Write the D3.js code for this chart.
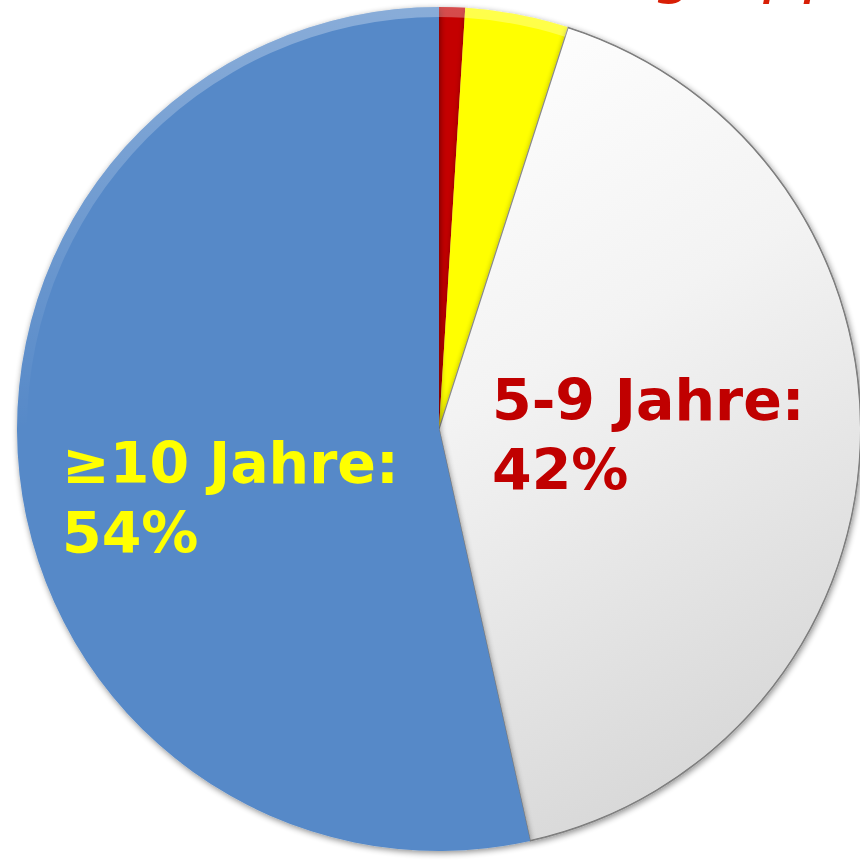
<!DOCTYPE html>
<html>
<head>
<meta charset="utf-8">
<script src="https://cdn.jsdelivr.net/npm/d3@7"></script>
<style>
  html, body { margin: 0; padding: 0; background: #fff; overflow: hidden; }
  svg { display: block; }
</style>
</head>
<body>
<svg id="chart" width="860" height="860"></svg>
<script>
// slices, clockwise from 12 o'clock
const categories = ["<1 Jahr", "1-4 Jahre", "5-9 Jahre", "≥10 Jahre"];
const shares = [1, 4, 42, 54];
const sliceColors = ["#c40000", "#ffff00", "url(#whiteFill)", "#5689c8"];

// labels shown on the two big slices
const labelLines = {
    "5-9 Jahre": ["5-9 Jahre:", "42%"],
    "≥10 Jahre": ["≥10 Jahre:", "54%"]
};
const labelColors = { "5-9 Jahre": "#c00000", "≥10 Jahre": "#ffff00" };

const titleText = "Altersgruppe bei Diagnose";

const svg = d3.select("#chart");
const defs = svg.append("defs");

// white slice: light at top, grey towards the bottom right
const grad = defs.append("linearGradient")
    .attr("id", "whiteFill")
    .attr("x1", "0").attr("y1", "0")
    .attr("x2", "0.3").attr("y2", "1");
grad.append("stop").attr("offset", "0%").attr("stop-color", "#ffffff");
grad.append("stop").attr("offset", "45%").attr("stop-color", "#f3f3f3");
grad.append("stop").attr("offset", "100%").attr("stop-color", "#d9d9d9");

// highlight on the rim, strongest at the top
const rimGrad = defs.append("linearGradient")
    .attr("id", "rimFill")
    .attr("gradientUnits", "userSpaceOnUse")
    .attr("x1", 0).attr("y1", -422)
    .attr("x2", 0).attr("y2", 0);
rimGrad.append("stop").attr("offset", "0%").attr("stop-color", "#ffffff").attr("stop-opacity", 0.3);
rimGrad.append("stop").attr("offset", "100%").attr("stop-color", "#ffffff").attr("stop-opacity", 0);

const shadow = defs.append("filter").attr("id", "soft")
    .attr("x", "-10%").attr("y", "-10%").attr("width", "120%").attr("height", "120%");
shadow.append("feGaussianBlur").attr("in", "SourceAlpha").attr("stdDeviation", 3).attr("result", "b");
shadow.append("feOffset").attr("in", "b").attr("dx", 1).attr("dy", 2).attr("result", "o");
shadow.append("feComponentTransfer").attr("in", "o").attr("result", "s")
    .append("feFuncA").attr("type", "linear").attr("slope", 0.45);
const merge = shadow.append("feMerge");
merge.append("feMergeNode").attr("in", "s");
merge.append("feMergeNode").attr("in", "SourceGraphic");

const cx = 439, cy = 429, radius = 422;

const pie = d3.pie().sort(null).value(d => d.value);
const arcs = pie(categories.map((c, i) => ({ name: c, value: shares[i] })));

const arc = d3.arc().innerRadius(0).outerRadius(radius);
const rim = d3.arc().innerRadius(radius - 10).outerRadius(radius);

const g = svg.append("g").attr("transform", `translate(${cx},${cy})`);

// title sits above the frame, only its lowest strokes show
svg.append("text")
    .attr("x", 470)
    .attr("y", -9)
    .attr("fill", "#d81e05")
    .attr("font-family", "'Comic Sans MS', 'DejaVu Sans', sans-serif")
    .attr("font-style", "italic")
    .attr("font-size", 64)
    .text(titleText);

g.selectAll("path.slice")
    .data(arcs)
    .enter()
    .append("path")
    .attr("class", "slice")
    .attr("d", arc)
    .attr("fill", (d, i) => sliceColors[i])
    .attr("filter", "url(#soft)")
    .attr("stroke", (d, i) => i === 2 ? "#8a8a8a" : "none")
    .attr("stroke-width", 1.2);

// light bevel along the rim of the coloured slices
g.selectAll("path.rim")
    .data(arcs.filter((d, i) => i !== 2))
    .enter()
    .append("path")
    .attr("class", "rim")
    .attr("d", rim)
    .attr("fill", "url(#rimFill)");

// outer edge of white slice
g.append("path")
    .attr("d", d3.arc().innerRadius(radius - 1).outerRadius(radius)(arcs[2]))
    .attr("fill", "#7a7a7a");

const labelPos = {
    "5-9 Jahre": [492, 420],
    "≥10 Jahre": [62, 483]
};

arcs.forEach((d) => {
    const lines = labelLines[d.data.name];
    if (!lines) return;
    const [lx, ly] = labelPos[d.data.name];
    const t = svg.append("text")
        .attr("x", lx)
        .attr("y", ly)
        .attr("fill", labelColors[d.data.name])
        .attr("font-family", "'Comic Sans MS', 'DejaVu Sans', sans-serif")
        .attr("font-weight", "bold")
        .attr("font-size", 57);
    lines.forEach((line, j) => {
        t.append("tspan")
            .attr("x", lx)
            .attr("dy", j === 0 ? 0 : 70)
            .text(line);
    });
});
</script>
</body>
</html>
